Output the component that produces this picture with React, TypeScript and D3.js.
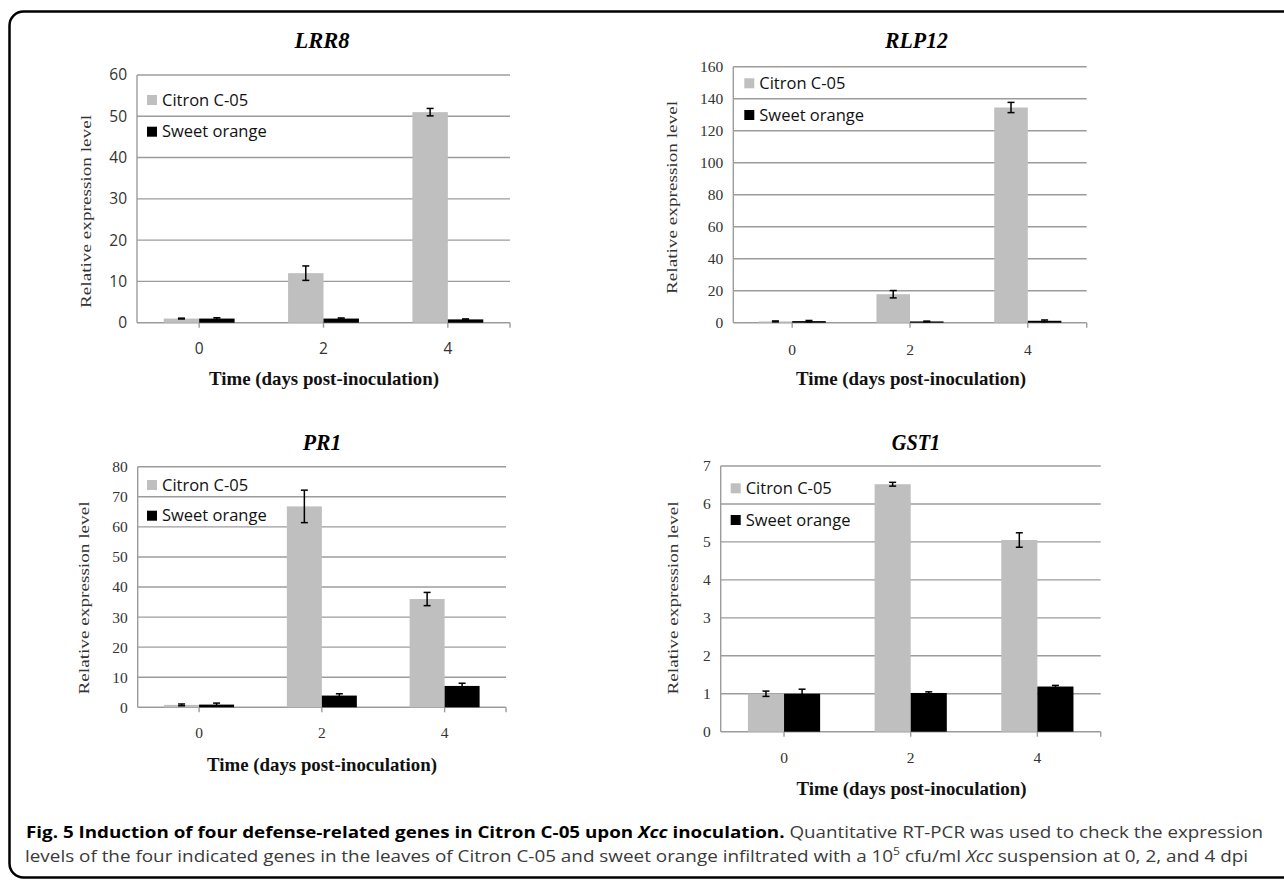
import React from "react";
import * as d3 from "d3";

// ---------- data ----------
const categories = ["0", "2", "4"];
const genes = ["LRR8", "RLP12", "PR1", "GST1"];
const seriesNames = ["Citron C-05", "Sweet orange"];

const lrr8Citron = [1.0, 12.0, 51.0];
const lrr8CitronErr = [0.1, 1.75, 0.9];
const lrr8Orange = [1.0, 1.0, 0.8];
const lrr8OrangeErr = [0.2, 0.15, 0.12];

const rlp12Citron = [0.8, 17.8, 134.5];
const rlp12CitronErr = [0.3, 2.3, 3.2];
const rlp12Orange = [1.0, 0.8, 1.2];
const rlp12OrangeErr = [0.4, 0.2, 0.5];

const pr1Citron = [0.8, 66.8, 36.0];
const pr1CitronErr = [0.3, 5.4, 2.2];
const pr1Orange = [0.9, 3.9, 7.1];
const pr1OrangeErr = [0.5, 0.6, 0.9];

const gst1Citron = [1.0, 6.52, 5.05];
const gst1CitronErr = [0.07, 0.05, 0.19];
const gst1Orange = [1.0, 1.02, 1.19];
const gst1OrangeErr = [0.12, 0.03, 0.03];

const yMaxes = [60, 160, 80, 7];
const ySteps = [10, 20, 10, 1];

const xTitle = "Time (days post-inoculation)";
const yTitle = "Relative expression level";

const dataSets = [
  { citron: lrr8Citron, citronErr: lrr8CitronErr, orange: lrr8Orange, orangeErr: lrr8OrangeErr },
  { citron: rlp12Citron, citronErr: rlp12CitronErr, orange: rlp12Orange, orangeErr: rlp12OrangeErr },
  { citron: pr1Citron, citronErr: pr1CitronErr, orange: pr1Orange, orangeErr: pr1OrangeErr },
  { citron: gst1Citron, citronErr: gst1CitronErr, orange: gst1Orange, orangeErr: gst1OrangeErr },
];

// ---------- layout ----------
const layouts = [
  { x0: 137, x1: 510, yTop: 75, y0: 322.7, titleX: 322, titleY: 48, titleW: 55, xTickY: 354, xTitleX: 324, xTitleY: 385, ylabX: 86, ylabY: 211.5, legX: 147, legY1: 100, legY2: 131.7, sansTicks: true },
  { x0: 733.3, x1: 1086.7, yTop: 66.7, y0: 322.7, titleX: 916.5, titleY: 48, titleW: 63, xTickY: 355, xTitleX: 911, xTitleY: 385, ylabX: 672, ylabY: 197.5, legX: 744.3, legY1: 83.3, legY2: 115, sansTicks: false },
  { x0: 137.7, x1: 506, yTop: 466.7, y0: 707.3, titleX: 322, titleY: 450, titleW: 38.7, xTickY: 738, xTitleX: 322, xTitleY: 771, ylabX: 84, ylabY: 598, legX: 147, legY1: 485, legY2: 515.7, sansTicks: false },
  { x0: 720.7, x1: 1100.7, yTop: 466, y0: 731.7, titleX: 916, titleY: 449.5, titleW: 48.3, xTickY: 763, xTitleX: 911.5, xTitleY: 795, ylabX: 673, ylabY: 598, legX: 730.7, legY1: 488.3, legY2: 520, sansTicks: false },
];

const GRAY = "#bfbfbf";
const GRID = "#9c9c9c";
const SERIF = "'Liberation Serif', 'Times New Roman', serif";
const SANS = "'Open Sans', 'Noto Sans', sans-serif";

function Panel({ gene, data, L, yMax, yStep }) {
  const x = d3.scalePoint().domain(categories).range([L.x0, L.x1]).padding(0.5);
  const step = x.step();
  const bw = step * 0.285;
  const y = d3.scaleLinear().domain([0, yMax]).range([L.y0, L.yTop]);
  const ticks = d3.range(0, yMax + yStep / 2, yStep);
  const tickFont = L.sansTicks ? SANS : SERIF;
  const cap = 3.5;

  const series = [
    { vals: data.citron, errs: data.citronErr, color: GRAY, off: -bw },
    { vals: data.orange, errs: data.orangeErr, color: "#000", off: 0 },
  ];

  return (
    <g>
      <text x={L.titleX} y={L.titleY} textAnchor="middle" fontFamily={SERIF} fontWeight="bold" fontStyle="italic" fontSize={23} textLength={L.titleW} lengthAdjust="spacingAndGlyphs">{gene}</text>
      {ticks.map((t) => (
        <line key={"g" + t} x1={L.x0} x2={L.x1} y1={y(t)} y2={y(t)} stroke={GRID} strokeWidth={1.4} />
      ))}
      <line x1={L.x0} x2={L.x0} y1={L.yTop} y2={L.y0} stroke={GRID} strokeWidth={1.4} />
      {[...categories.map((c) => x(c)), L.x1].map((px, i) => (
        <line key={"xt" + i} x1={px} x2={px} y1={L.y0} y2={L.y0 + 5} stroke={GRID} strokeWidth={1.4} />
      ))}
      {ticks.map((t) => (
        <text key={"yt" + t} x={L.x0 - 10} y={y(t)} dy="0.35em" textAnchor="end" fontFamily={tickFont} fontSize={15.5} fill="#333">{t}</text>
      ))}
      {categories.map((c) => (
        <text key={"xl" + c} x={x(c)} y={L.xTickY} textAnchor="middle" fontFamily={tickFont} fontSize={15.5} fill="#333">{c}</text>
      ))}
      {series.map((s, si) =>
        categories.map((c, ci) => {
          const bx = x(c) + s.off;
          return (
            <rect key={"b" + si + ci} x={bx} y={y(s.vals[ci])} width={bw} height={L.y0 - y(s.vals[ci])} fill={s.color} />
          );
        })
      )}
      {series.map((s, si) =>
        categories.map((c, ci) => {
          const cx = x(c) + s.off + bw / 2;
          const hi = y(s.vals[ci] + s.errs[ci]);
          const lo = y(Math.max(0, s.vals[ci] - s.errs[ci]));
          return (
            <g key={"e" + si + ci} stroke="#000" strokeWidth={1.5}>
              <line x1={cx} x2={cx} y1={hi} y2={lo} />
              <line x1={cx - cap} x2={cx + cap} y1={hi} y2={hi} />
              <line x1={cx - cap} x2={cx + cap} y1={lo} y2={lo} />
            </g>
          );
        })
      )}
      <text transform={`translate(${L.ylabX},${L.ylabY}) rotate(-90)`} textAnchor="middle" dy="0.35em" fontFamily={SERIF} fontSize={15.5} fill="#333" textLength={193} lengthAdjust="spacingAndGlyphs">{yTitle}</text>
      <text x={L.xTitleX} y={L.xTitleY} textAnchor="middle" fontFamily={SERIF} fontWeight="bold" fontSize={19.5} fill="#111" textLength={230} lengthAdjust="spacingAndGlyphs">{xTitle}</text>
      {[L.legY1, L.legY2].map((ly, i) => (
        <g key={"lg" + i}>
          <rect x={L.legX} y={ly - 5} width={10} height={10} fill={i === 0 ? GRAY : "#000"} />
          <text x={L.legX + 15} y={ly} dy="0.35em" fontFamily={SANS} fontSize={16.5} fill="#111">{seriesNames[i]}</text>
        </g>
      ))}
    </g>
  );
}

export default function App() {
  return (
    <svg width={1284} height={881} style={{ position: "absolute", left: 0, top: 0, background: "#fff" }}>
      <rect x={0} y={0} width={1284} height={881} fill="#fff" />
      <rect x={9.5} y={11.5} width={1300} height={866} rx={14} ry={14} fill="none" stroke="#000" strokeWidth={2.5} />
      {genes.map((g, i) => (
        <Panel key={g} gene={g} data={dataSets[i]} L={layouts[i]} yMax={yMaxes[i]} yStep={ySteps[i]} />
      ))}
      <text x={26} y={838} fontFamily={SANS} fontSize={15.5} textLength={1237} lengthAdjust="spacingAndGlyphs">
        <tspan fontWeight="bold" fill="#000">Fig. 5 Induction of four defense-related genes in Citron C-05 upon </tspan>
        <tspan fontWeight="bold" fontStyle="italic" fill="#000">Xcc</tspan>
        <tspan fontWeight="bold" fill="#000"> inoculation.</tspan>
        <tspan fill="#3a3a3a"> Quantitative RT-PCR was used to check the expression</tspan>
      </text>
      <text x={25} y={862} fontFamily={SANS} fontSize={15.5} fill="#3a3a3a" textLength={1223} lengthAdjust="spacingAndGlyphs">
        <tspan>levels of the four indicated genes in the leaves of Citron C-05 and sweet orange infiltrated with a 10</tspan>
        <tspan fontSize={10} dy={-7}>5</tspan>
        <tspan dy={7}> cfu/ml </tspan>
        <tspan fontStyle="italic">Xcc</tspan>
        <tspan> suspension at 0, 2, and 4 dpi</tspan>
      </text>
    </svg>
  );
}
